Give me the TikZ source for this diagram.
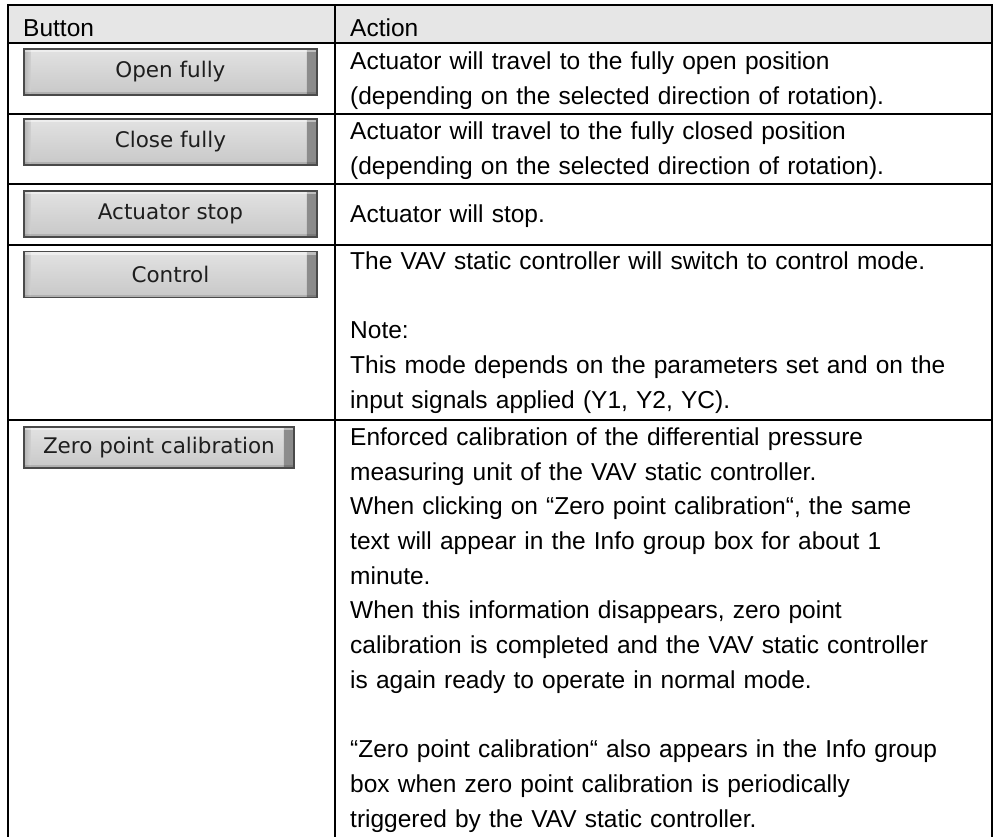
\documentclass[tikz,border=0pt]{standalone}
\usepackage{fontspec}
\setmainfont{Liberation Sans}
\newfontfamily\btnface{DejaVu Sans}
\usetikzlibrary{positioning}

\definecolor{hdrgray}{HTML}{E6E6E6}
\definecolor{btnedge}{HTML}{4A4A4A}
\definecolor{btntop}{HTML}{E2E2E2}
\definecolor{btnbot}{HTML}{C8C8C8}
\definecolor{btndark}{HTML}{8A8A8A}
\definecolor{btnleft}{HTML}{B4B4B4}
\definecolor{btntext}{HTML}{1E1E1E}

\newcommand{\cellfont}{\fontsize{24.5}{34.7}\selectfont}
\newcommand{\btnfont}{\btnface\fontsize{21.5}{26}\selectfont}

\tikzset {
    rule/.style={line width=2pt, black},
    head/.style={anchor=base west, inner sep=0pt, font=\cellfont},
    cell/.style={anchor=north west, inner sep=0pt, text width=630pt,
                 align=left, font=\cellfont},
    button/.style={draw=btnedge, line width=1.4pt, top color=btntop,
                   bottom color=btnbot, inner sep=0pt, font=\btnfont,
                   text=btntext, minimum width=293pt, minimum height=46pt,
                   path picture={
                     \fill[left color=btnbot!60!btntop, right color=btndark]
                       ([xshift=-10pt]path picture bounding box.north east)
                       rectangle (path picture bounding box.south east);
                     \fill[left color=btnleft, right color=btnbot!60!btntop]
                       (path picture bounding box.north west)
                       rectangle ([xshift=7pt]path picture bounding box.south west);
                     \fill[white, opacity=.45]
                       (path picture bounding box.north west)
                       rectangle ([yshift=-3pt]path picture bounding box.north east);
                     \fill[black, opacity=.12]
                       (path picture bounding box.south west)
                       rectangle ([yshift=3pt]path picture bounding box.south east);
                   }}
}

\begin{document}
\begin{tikzpicture}[x=1pt, y=-1pt]
    \useasboundingbox (0,0) rectangle (996,836);
    \clip (0,0) rectangle (996,836);

    % header band and grid
    \fill[hdrgray] (8,5) rectangle (992,43);
    \draw[rule] (8,5) -- (992,5);
    \draw[rule] (8,43) -- (992,43);
    \draw[rule] (8,113.7) -- (992,113.7);
    \draw[rule] (8,184.3) -- (992,184.3);
    \draw[rule] (8,244.5) -- (992,244.5);
    \draw[rule] (8,420) -- (992,420);
    \draw[rule] (8,4) -- (8,840);
    \draw[rule] (335,4) -- (335,840);
    \draw[rule] (992,4) -- (992,840);

    % header
    \node[head] (hbutton) at (23,36) {Button};
    \node[head] (haction) at (350,36) {Action};

    % buttons
    \node[button] (bopen)  at (170.4,72)  {Open fully};
    \node[button] (bclose) at (170.4,142) {Close fully};
    \node[button] (bstop)  at (170.4,214) {Actuator stop};
    \node[button] (bctrl)  at (170.4,274.5) {Control};
    \node[button, minimum width=270pt, minimum height=41pt] (bzero) at (158.9,447.5) {Zero point calibration};

    % actions
    \node[cell] (aopen) at (350,45) {\strut Actuator will travel to the fully open position\\
        (depending on the selected direction of rotation).};
    \node[cell] (aclose) at (350,115) {\strut Actuator will travel to the fully closed position\\
        (depending on the selected direction of rotation).};
    \node[cell] (astop) at (350,197.7) {\strut Actuator will stop.};
    \node[cell] (actrl) at (350,245) {\strut The VAV static controller will switch to control mode.\\
        \mbox{}\\
        Note:\\
        This mode depends on the parameters set and on the\\
        input signals applied (Y1, Y2, YC).};
    \node[cell] (azero) at (350,421) {\strut Enforced calibration of the differential pressure\\
        measuring unit of the VAV static controller.\\
        When clicking on “Zero point calibration“, the same\\
        text will appear in the Info group box for about 1\\
        minute.\\
        When this information disappears, zero point\\
        calibration is completed and the VAV static controller\\
        is again ready to operate in normal mode.\\
        \mbox{}\\
        “Zero point calibration“ also appears in the Info group\\
        box when zero point calibration is periodically\\
        triggered by the VAV static controller.};
\end{tikzpicture}
\end{document}
